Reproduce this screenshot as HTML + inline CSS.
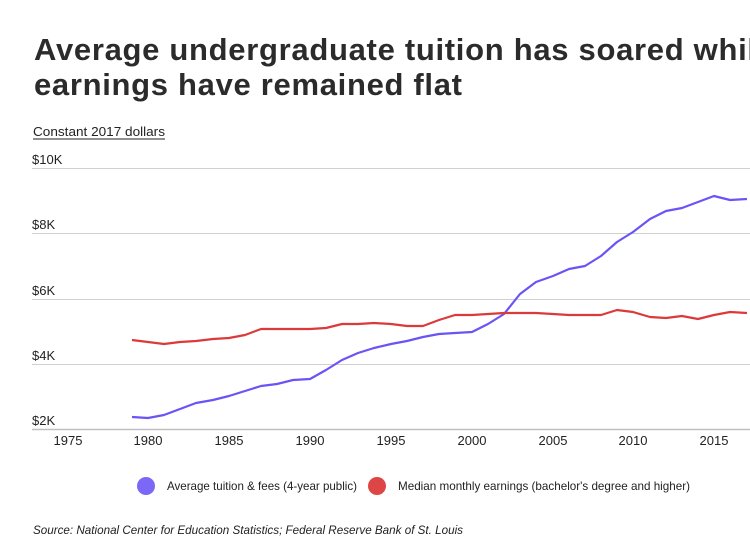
<!DOCTYPE html>
<html><head><meta charset="utf-8"><style>body{margin:0;background:#fff}svg{display:block}</style></head>
<body>
<svg width="750" height="550" xmlns="http://www.w3.org/2000/svg" font-family="Liberation Sans, sans-serif">
<rect width="750" height="550" fill="#fff"/>
<g fill="#2b2b2b" font-weight="bold" font-size="31">
<text x="34" y="60" textLength="740" lengthAdjust="spacing">Average undergraduate tuition has soared while</text>
<text x="34" y="95" textLength="428" lengthAdjust="spacing">earnings have remained flat</text>
</g>
<text x="33" y="136" font-size="13" fill="#222" textLength="132" lengthAdjust="spacingAndGlyphs">Constant 2017 dollars</text>
<line x1="33" y1="139" x2="165" y2="139" stroke="#222" stroke-width="1"/>
<g stroke="#d0d0d0" stroke-width="1">
<line x1="32" y1="168.5" x2="750" y2="168.5"/>
<line x1="32" y1="233.5" x2="750" y2="233.5"/>
<line x1="32" y1="299.5" x2="750" y2="299.5"/>
<line x1="32" y1="364.5" x2="750" y2="364.5"/>
</g>
<line x1="32" y1="429.5" x2="750" y2="429.5" stroke="#c0c0c0" stroke-width="1.5"/>
<g font-size="13" fill="#222">
<text x="32" y="164">$10K</text>
<text x="32" y="229">$8K</text>
<text x="32" y="295">$6K</text>
<text x="32" y="360">$4K</text>
<text x="32" y="425">$2K</text>
</g>
<g font-size="13" fill="#222" text-anchor="middle">
<text x="68" y="445">1975</text><text x="148" y="445">1980</text><text x="229" y="445">1985</text>
<text x="310" y="445">1990</text><text x="391" y="445">1995</text><text x="472" y="445">2000</text>
<text x="553" y="445">2005</text><text x="633" y="445">2010</text><text x="714" y="445">2015</text>
</g>
<polyline fill="none" stroke="#6a54f5" stroke-width="2.2" stroke-linejoin="round" points="132,417 148,418 164,415 180,409 196,403 213,400 229,396 245,391 261,386 277,384 293,380 310,379 326,370 342,360 358,353 374,348 391,344 407,341 423,337 439,334 455,333 472,332 488,324 504,314 520,294 536,282 553,276 569,269 585,266 601,256 617,242 633,232 650,219 666,211 682,208 698,202 714,196 730,200 747,199"/>
<polyline fill="none" stroke="#dc3a3a" stroke-width="2.2" stroke-linejoin="round" points="132,340 148,342 164,344 180,342 196,341 213,339 229,338 245,335 261,329 277,329 293,329 310,329 326,328 342,324 358,324 374,323 391,324 407,326 423,326 439,320 455,315 472,315 488,314 504,313 520,313 536,313 553,314 569,315 585,315 601,315 617,310 633,312 650,317 666,318 682,316 698,319 714,315 730,312 747,313"/>
<circle cx="146" cy="486" r="9" fill="#7b68f7"/>
<text x="167" y="490" font-size="12" fill="#222" textLength="190" lengthAdjust="spacingAndGlyphs">Average tuition &amp; fees (4-year public)</text>
<circle cx="377" cy="486" r="9" fill="#de4545"/>
<text x="398" y="490" font-size="12" fill="#222" textLength="292" lengthAdjust="spacingAndGlyphs">Median monthly earnings (bachelor's degree and higher)</text>
<text x="33" y="534" font-size="12" font-style="italic" fill="#222" textLength="430" lengthAdjust="spacingAndGlyphs">Source: National Center for Education Statistics; Federal Reserve Bank of St. Louis</text>
</svg>
</body></html>
